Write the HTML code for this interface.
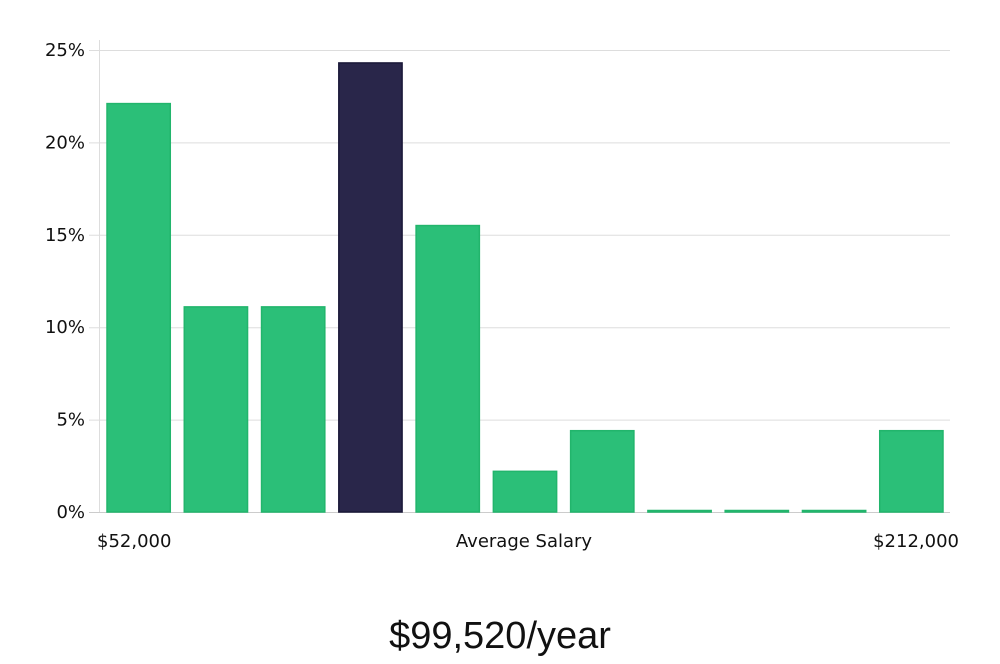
<!DOCTYPE html>
<html><head><meta charset="utf-8"><style>
body{margin:0;background:#fff;width:1000px;height:660px;overflow:hidden;font-family:"DejaVu Sans","Liberation Sans",sans-serif}
svg text{fill:#111}
</style></head><body>
<svg width="1000" height="660">
<g id="grid"></g><g id="bars"></g><g id="labels"></g>
<text x="97" y="547" font-size="18">$52,000</text>
<text x="524" y="547" font-size="18" text-anchor="middle">Average Salary</text>
<text x="959" y="547" font-size="18" text-anchor="end">$212,000</text>
<text x="500" y="648" font-size="38" text-anchor="middle" font-family="Liberation Sans, sans-serif" font-weight="300">$99,520/year</text>
</svg>
<script>
const categories=["b1","b2","b3","b4","b5","b6","b7","b8","b9","b10","b11"];
const values=[22.1,11.1,11.1,24.3,15.5,2.2,4.4,0,0,0,4.4];
const highlight=[false,false,false,true,false,false,false,false,false,false,false];
const ticks=[0,5,10,15,20,25];
const ns="http://www.w3.org/2000/svg";
const y0=512,yTop=50,xL=100,xR=950;
const y=v=>y0-(v/25)*(y0-yTop);
const slot=(xR-xL)/categories.length;
const x=i=>xL+i*slot+7;
function mk(t,a,p){const e=document.createElementNS(ns,t);for(const k in a)e.setAttribute(k,a[k]);p.appendChild(e);return e;}
const G=document.getElementById('grid'),B=document.getElementById('bars'),L=document.getElementById('labels');
const ax=mk('line',{x1:99.5,x2:99.5,y1:40,y2:y0,stroke:'#ddd','stroke-width':1},G);


ticks.forEach(t=>{
 const l=mk('line',{x1:89,x2:xR,y1:y(t)+0.5,y2:y(t)+0.5,stroke:t===0?'#ccc':'#ddd','stroke-width':1},G);
 
 
 const tx=mk('text',{x:85,y:y(t)+6,'font-size':18,'text-anchor':'end'},L);
 tx.textContent=t+'%';
 
 
});
values.forEach((v,i)=>{
 const h=Math.max(y0-y(v),1.5);
 const r=mk('rect',{x:x(i),y:y0-h,width:slot-14,height:h,fill:highlight[i]?'#29264a':'#2bbf78',stroke:highlight[i]?'#1a1838':'#22b56c','stroke-width':1.5},B);
 
 
});
</script>
</body></html>
